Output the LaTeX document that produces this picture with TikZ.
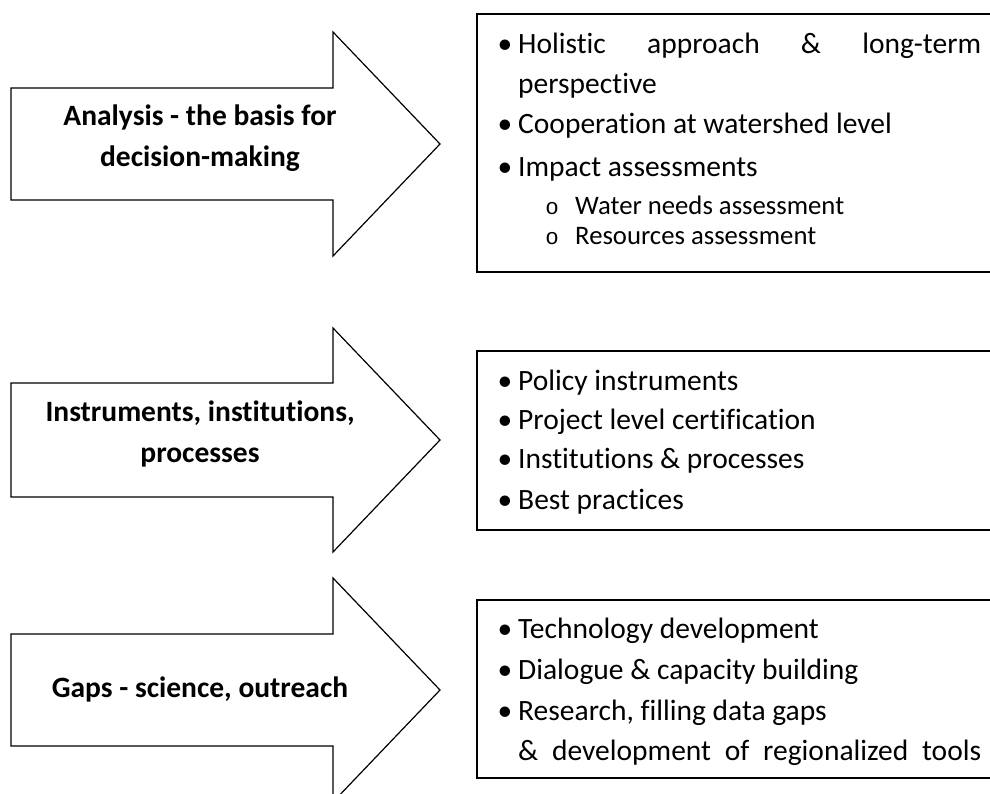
\documentclass[tikz,border=0pt]{standalone}
\usepackage{fontspec}
\setmainfont[Ligatures=NoCommon]{Carlito}
\newfontfamily\monofnt{Liberation Mono}
\begin{document}
\begin{tikzpicture}[x=1pt,y=-1pt,
  arrowshape/.style={draw=black,line width=1.2pt,fill=white,line join=miter},
  boxshape/.style={draw=black,line width=1.3pt},
  lbl/.style={anchor=base,inner sep=0pt,font=\fontsize{29.5}{34}\selectfont\bfseries},
  itm/.style={anchor=base west,inner sep=0pt,font=\fontsize{29.5}{34}\selectfont},
  sub/.style={anchor=base west,inner sep=0pt,font=\fontsize{26.7}{30}\selectfont},
  bul/.style={anchor=base,inner sep=0pt,font=\fontsize{29.5}{34}\selectfont},
  subbul/.style={anchor=base,inner sep=0pt,font=\fontsize{22.5}{26}\monofnt}]
\useasboundingbox (0,0) rectangle (990,793);
\clip (0,0) rectangle (990,793);
\fill[white] (0,0) rectangle (990,793);

% arrows
\draw[arrowshape] (11,88) -- (333,88) -- (333,32) -- (440,144) -- (333,256) -- (333,200) -- (11,200) -- cycle;
\draw[arrowshape] (11,383) -- (333,383) -- (333,328) -- (440,440) -- (333,552) -- (333,497) -- (11,497) -- cycle;
\draw[arrowshape] (11,634) -- (333,634) -- (333,578) -- (440,690) -- (333,802) -- (333,746) -- (11,746) -- cycle;

\node[lbl] (a1) at (200,125) {Analysis - the basis for};
\node[lbl] (a1b) at (200,166) {decision-making};
\node[lbl] (a2) at (200,421) {Instruments, institutions,};
\node[lbl] (a2b) at (200,462) {processes};
\node[lbl] (a3) at (200,697) {Gaps - science, outreach};

% boxes
\draw[boxshape] (477,14) rectangle (1000,272);
\draw[boxshape] (477,351) rectangle (1000,530);
\draw[boxshape] (477,600) rectangle (1000,778);

% box 1
\node[bul] (b1a) at (505,53) {•};
\node[itm] (t1a) at (518,53) {\hbox to 463pt{Holistic\hfill approach\hfill \&\hfill long-term}};
\node[itm] (t1a2) at (518,93) {perspective};
\node[bul] (b1b) at (505,133) {•};
\node[itm] (t1b) at (518,133) {Cooperation at watershed level};
\node[bul] (b1c) at (505,176) {•};
\node[itm] (t1c) at (518,176) {Impact assessments};
\node[subbul] (s1a) at (552,214) {o};
\node[sub] (u1a) at (575,214) {Water needs assessment};
\node[subbul] (s1b) at (552,244) {o};
\node[sub] (u1b) at (575,244) {Resources assessment};

% box 2
\node[bul] (b2a) at (505,390) {•};
\node[itm] (t2a) at (518,390) {Policy instruments};
\node[bul] (b2b) at (505,429) {•};
\node[itm] (t2b) at (518,429) {Project level certification};
\node[bul] (b2c) at (505,468) {•};
\node[itm] (t2c) at (518,468) {Institutions \& processes};
\node[bul] (b2d) at (505,509) {•};
\node[itm] (t2d) at (518,509) {Best practices};

% box 3
\node[bul] (b3a) at (505,638) {•};
\node[itm] (t3a) at (518,638) {Technology development};
\node[bul] (b3b) at (505,679) {•};
\node[itm] (t3b) at (518,679) {Dialogue \& capacity building};
\node[bul] (b3c) at (505,720) {•};
\node[itm] (t3c) at (518,720) {Research, filling data gaps};
\node[itm] (t3d) at (518,760) {\hbox to 463pt{\&\hfill development\hfill of\hfill regionalized\hfill tools}};
\end{tikzpicture}
\end{document}
